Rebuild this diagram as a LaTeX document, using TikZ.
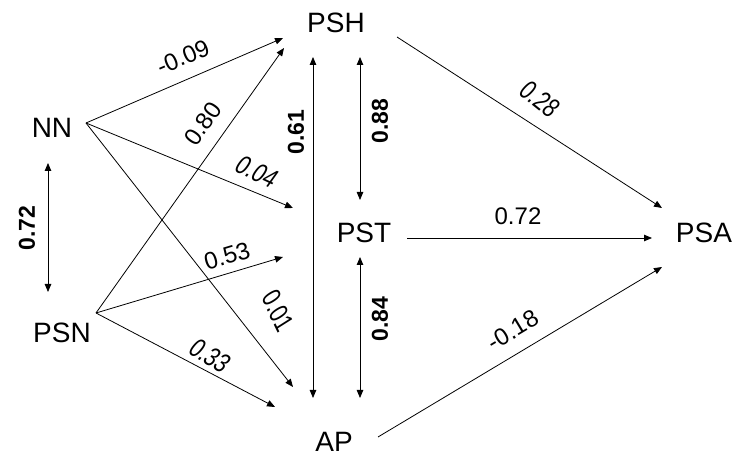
\documentclass[tikz,border=0pt]{standalone}
\usepackage{fontspec}
\setmainfont{Liberation Sans}
\usetikzlibrary{arrows.meta}
\begin{document}
\begin{tikzpicture}[x=1pt,y=1pt,
  var/.style={inner sep=0pt,font=\fontsize{28}{30}\selectfont},
  lab/.style={inner sep=0pt,font=\fontsize{24}{26}\selectfont},
  blab/.style={inner sep=0pt,font=\fontsize{23}{25}\selectfont\bfseries,rotate=90},
  slab/.style={lab,transform shape,xslant=0.3},
  conn/.style={line width=0.8pt,-{Triangle[length=8pt,width=6.5pt]}},
  dconn/.style={line width=0.8pt,{Triangle[length=8pt,width=6.5pt]}-{Triangle[length=8pt,width=6.5pt]}}]
\useasboundingbox (0,0) rectangle (734,455);
% variables
\node[var] (NN) at (52,327) {NN};
\node[var] (PSN) at (62,122) {PSN};
\node[var] (PSH) at (336,432) {PSH};
\node[var] (PST) at (364,222) {PST};
\node[var] (AP) at (334,13) {AP};
\node[var] (PSA) at (704,222) {PSA};
% connector end points
\coordinate (NNo) at (86,332);
\coordinate (PSNo) at (96,142);
\coordinate (PSHa) at (283,417);
\coordinate (PSHb) at (284,407);
\coordinate (PSTa) at (293,247);
\coordinate (PSTb) at (283,198);
\coordinate (APa) at (293,68);
\coordinate (APb) at (275,48);
\coordinate (L1) at (48,292);
\coordinate (L2) at (48,163);
\coordinate (C1) at (313,398);
\coordinate (C2) at (313,57);
\coordinate (D1) at (360,398);
\coordinate (D2) at (360,255);
\coordinate (E1) at (360,198);
\coordinate (E2) at (360,57);
\coordinate (PSHo) at (397,418);
\coordinate (PSTo) at (407,217);
\coordinate (APo) at (378,18);
\coordinate (PSAa) at (662,247);
\coordinate (PSAb) at (652,217);
\coordinate (PSAc) at (662,188);
% connectors
\draw[conn] (NNo) -- (PSHa);
\draw[conn] (NNo) -- (PSTa);
\draw[conn] (NNo) -- (APa);
\draw[conn] (PSNo) -- (PSHb);
\draw[conn] (PSNo) -- (PSTb);
\draw[conn] (PSNo) -- (APb);
\draw[dconn] (L1) -- (L2);
\draw[dconn] (C1) -- (C2);
\draw[dconn] (D1) -- (D2);
\draw[dconn] (E1) -- (E2);
\draw[conn] (PSHo) -- (PSAa);
\draw[conn] (PSTo) -- (PSAb);
\draw[conn] (APo) -- (PSAc);
% labels
\node[lab,rotate=23.3] (l1) at (183,398) {-0.09};
\node[lab,rotate=54.6] (l2) at (203,331) {0.80};
\node[slab,rotate=-22.3] (l3) at (257,283) {0.04};
\node[lab,rotate=16.7] (l4) at (227,199) {0.53};
\node[slab,rotate=-52] (l5) at (278,144) {0.01};
\node[slab,rotate=-27.7] (l6) at (210,99) {0.33};
\node[blab] (l7) at (296,323) {0.61};
\node[blab] (l8) at (27,227) {0.72};
\node[blab] (l9) at (380,334) {0.88};
\node[blab] (l10) at (380,136) {0.84};
\node[slab,rotate=-32.8] (l11) at (540,356) {0.28};
\node[lab] (l12) at (518,239) {0.72};
\node[lab,rotate=30.9] (l13) at (513,125) {-0.18};
\end{tikzpicture}
\end{document}
